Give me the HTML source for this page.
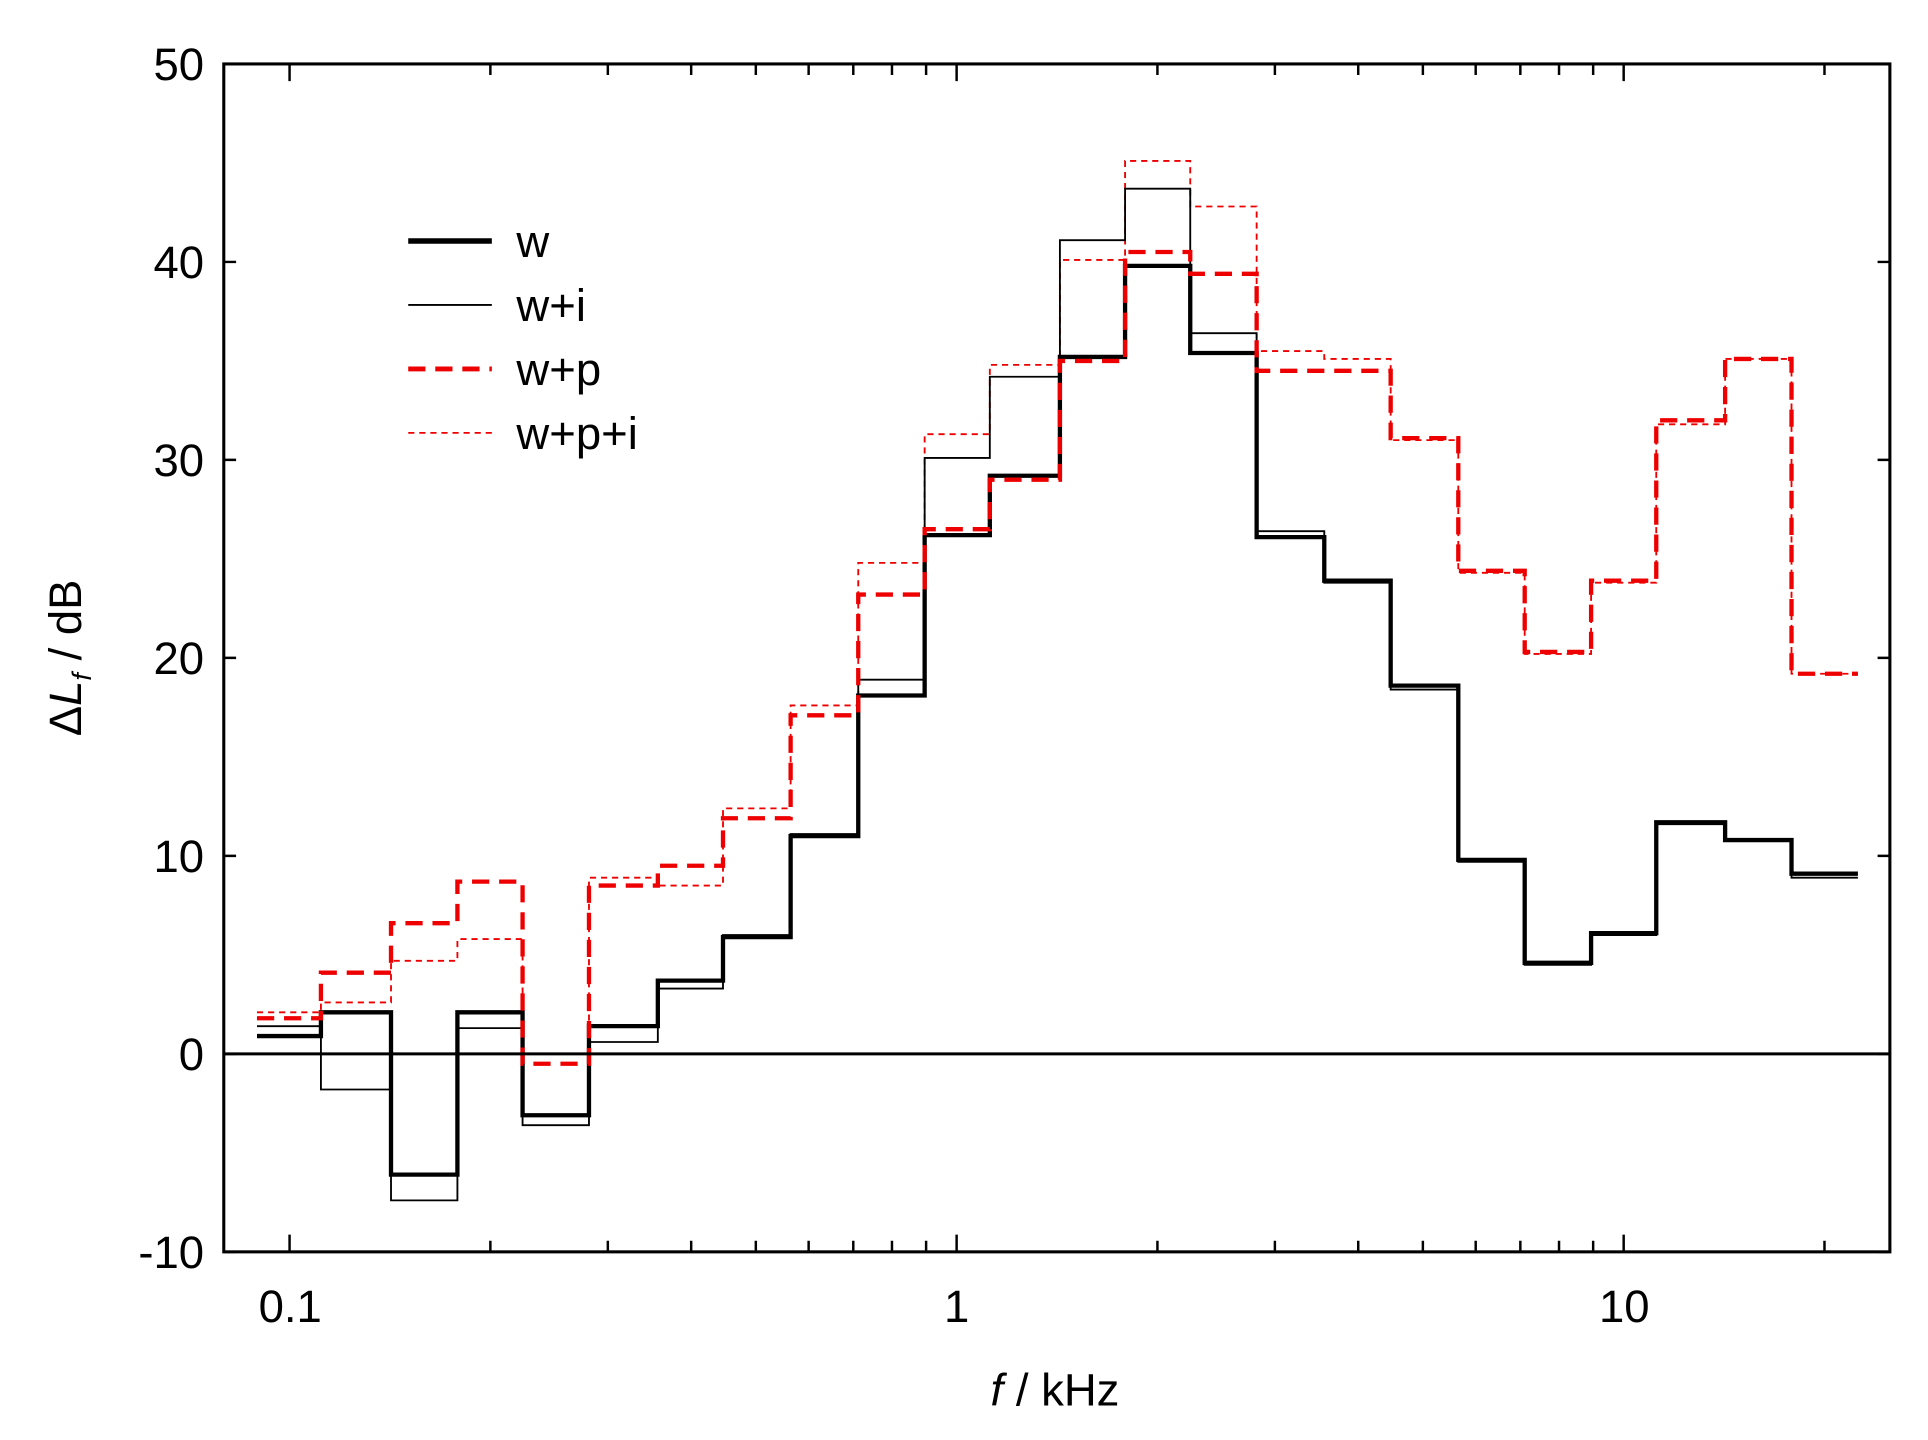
<!DOCTYPE html>
<html><head><meta charset="utf-8"><style>html,body{margin:0;padding:0;background:#fff}svg{display:block}</style></head>
<body>
<svg id="s" width="1928" height="1440" viewBox="0 0 1568 1171" preserveAspectRatio="none" xmlns="http://www.w3.org/2000/svg" font-family="Liberation Sans, Arial, sans-serif">
<rect width="1568" height="1171" fill="#fff"/>
<g id="g"></g>
<rect x="182" y="52" width="1355" height="966" fill="none" stroke="#000" stroke-width="2.5"/>
<line x1="182" y1="857" x2="1537" y2="857" stroke="#000" stroke-width="2.5"/>
<g font-size="37" text-anchor="end" fill="#000">
<text x="166" y="65">50</text><text x="166" y="226">40</text><text x="166" y="387">30</text>
<text x="166" y="548">20</text><text x="166" y="709">10</text><text x="166" y="870">0</text><text x="166" y="1031">-10</text>
</g>
<g font-size="37" text-anchor="middle">
<text x="236" y="1075">0.1</text><text x="778" y="1075">1</text><text x="1321" y="1075">10</text>
<text x="858" y="1143"><tspan font-style="italic">f</tspan> / kHz</text>
</g>
<text transform="translate(66,535) rotate(-90)" font-size="37" text-anchor="middle">Δ<tspan font-style="italic">L</tspan><tspan font-style="italic" font-size="22" dy="8">f</tspan><tspan dy="-8"> / dB</tspan></text>
<g font-size="37">
<line x1="332" y1="196" x2="400" y2="196" stroke="#000" stroke-width="4.5"/><text x="420" y="209">w</text>
<line x1="332" y1="248" x2="400" y2="248" stroke="#000" stroke-width="1.5"/><text x="420" y="261">w+i</text>
<line x1="332" y1="300" x2="400" y2="300" stroke="#e00" stroke-width="4" stroke-dasharray="14,8"/><text x="420" y="313">w+p</text>
<line x1="332" y1="352" x2="400" y2="352" stroke="#e00" stroke-width="1.5" stroke-dasharray="5,4"/><text x="420" y="365">w+p+i</text>
</g>
</svg>
<script>
var g=document.getElementById('g'),ns='http://www.w3.org/2000/svg';
function X(f){return 778+542.5*Math.log10(f);}
function Y(v){return 857-16.1*v;}
function el(t,a){var e=document.createElementNS(ns,t);for(var k in a)e.setAttribute(k,a[k]);g.appendChild(e);}
var s='';
for(var d=-1;d<=1;d++)for(var m=1;m<=9;m++){var f=m*Math.pow(10,d);var x=X(f);if(x<183||x>1536)continue;var L=(m==1)?14:9;
s+='M'+x+' 1018v-'+L+'M'+x+' 52v'+L;}
for(var v=-10;v<=50;v+=10){s+='M182 '+Y(v)+'h10M1537 '+Y(v)+'h-10';}
el('path',{d:s,stroke:'#000','stroke-width':2,fill:'none'});
var E=[209,261,318,372,425,479,535,588,643,698,752,805,862,915,968,1022,1077,1131,1186,1240,1294,1347,1403,1457,1511];
function step(vals){var p='M'+E[0]+' '+Y(vals[0]);for(var i=0;i<vals.length;i++){p+='H'+E[i+1];if(i+1<vals.length)p+='V'+Y(vals[i+1]);}return p;}
var w=[0.9,2.1,-6.1,2.1,-3.1,1.4,3.7,5.9,11.0,18.1,26.2,29.2,35.2,39.8,35.4,26.1,23.9,18.6,9.8,4.6,6.1,11.7,10.8,9.1];
var wi=[1.4,-1.8,-7.4,1.3,-3.6,0.6,3.3,6.0,11.1,18.9,30.1,34.2,41.1,43.7,36.4,26.4,23.8,18.4,9.7,4.5,6.0,11.6,10.8,8.9];
var wp=[1.8,4.1,6.6,8.7,-0.5,8.5,9.5,11.9,17.1,23.2,26.5,29.0,35.0,40.5,39.4,34.5,34.5,31.1,24.4,20.3,23.9,32.0,35.1,19.2];
var wpi=[2.1,2.6,4.7,5.8,0.0,8.9,8.5,12.4,17.6,24.8,31.3,34.8,40.1,45.1,42.8,35.5,35.1,31.0,24.3,20.2,23.8,31.8,35.1,19.2];
el('path',{d:step(wpi),stroke:'#e00','stroke-width':1.5,fill:'none','stroke-dasharray':'5,4'});
el('path',{d:step(wi),stroke:'#000','stroke-width':1.5,fill:'none'});
el('path',{d:step(w),stroke:'#000','stroke-width':3.5,fill:'none'});
el('path',{d:step(wp),stroke:'#e00','stroke-width':3.5,fill:'none','stroke-dasharray':'14,8'});
</script>
</body></html>
